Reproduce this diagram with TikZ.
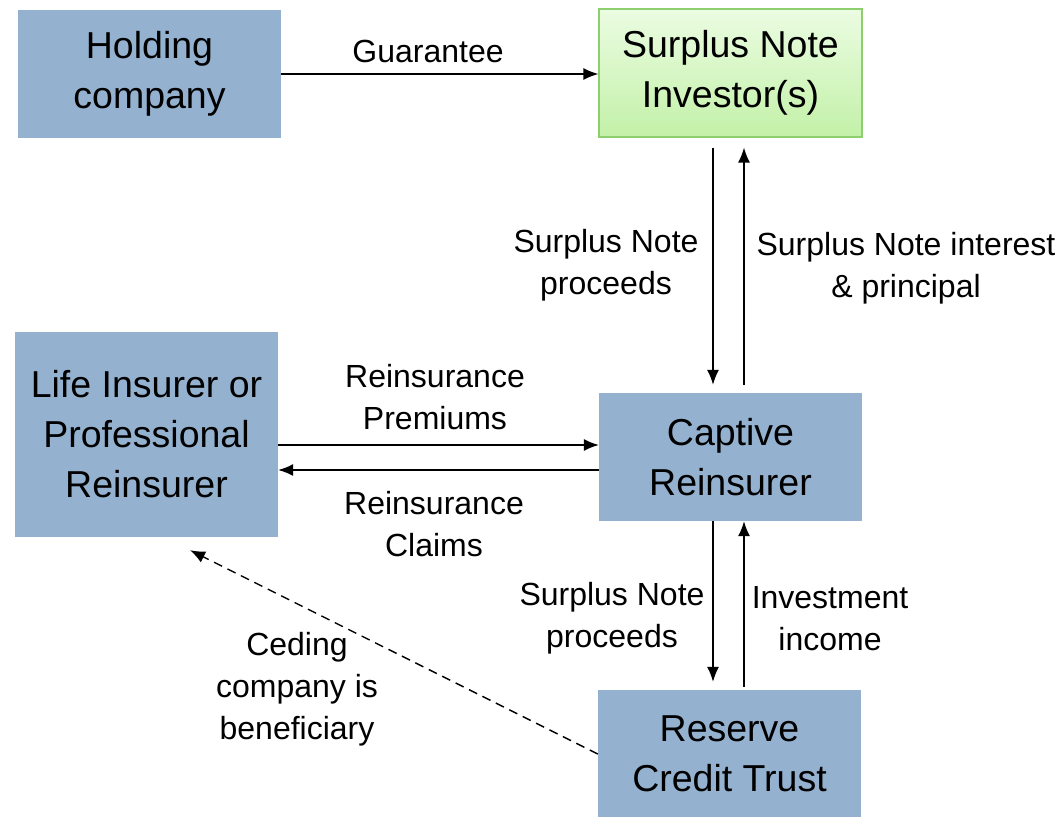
\documentclass[tikz,border=0pt]{standalone}
\usepackage{fontspec}
\setmainfont{Liberation Sans}
\usetikzlibrary{arrows.meta,calc}
\definecolor{boxblue}{HTML}{94B2D0}
\definecolor{greentop}{HTML}{EBFCE2}
\definecolor{greenbot}{HTML}{C3F1A8}
\definecolor{greenline}{HTML}{8DCF6E}
\tikzset{
  entity/.style={fill=boxblue, draw=none, minimum width=263pt, minimum height=128pt,
    align=center, inner sep=0pt, font=\fontsize{37.5}{50}\selectfont},
  investorbox/.style={entity, top color=greentop, bottom color=greenbot, draw=greenline, line width=1.2pt},
  flowlabel/.style={align=center, inner sep=0pt, font=\fontsize{32}{42}\selectfont},
  flow/.style={line width=1.4pt, -{Latex[length=15pt,width=12pt]}},
  beneficiary/.style={flow, dashed, dash pattern=on 9pt off 6pt}
}
\begin{document}
\begin{tikzpicture}[x=1pt,y=-1pt]
\useasboundingbox (0,0) rectangle (1062,816);

% parties
\node[entity] (hold) at (149.5,74) {Holding\\company};
\node[investorbox] (inv) at (730.5,73) {Surplus Note\\Investor(s)};
\node[entity, minimum height=205pt] (life) at (146.5,434.5) {Life Insurer or\\Professional\\Reinsurer};
\node[entity] (cap) at (730.5,457) {Captive\\Reinsurer};
\node[entity] (trust) at (729.5,754) {Reserve\\Credit Trust};

% flow labels
\node[flowlabel] (lguar) at (428,51) {Guarantee};
\node[flowlabel] (lproc1) at (606,265) {Surplus Note\\proceeds};
\node[flowlabel] (lint) at (906,268) {Surplus Note interest\\\& principal};
\node[flowlabel] (lprem) at (435,397) {Reinsurance\\Premiums};
\node[flowlabel] (lclaim) at (434,524) {Reinsurance\\Claims};
\node[flowlabel] (lproc2) at (612,618) {Surplus Note\\proceeds};
\node[flowlabel] (linc) at (830,619) {Investment\\income};
\node[flowlabel] (lcede) at (297,689) {Ceding\\company is\\beneficiary};

% guarantee
\draw[flow] (hold.east |- 0,74) -- (inv.west |- 0,74);

% surplus note investor <-> captive
\draw[flow] ($(inv.south)+(-17.5,10)$) -- ($(cap.north)+(-17.5,-8)$);
\draw[flow] ($(cap.north)+(13.5,-8)$) -- ($(inv.south)+(13.5,10)$);

% captive <-> life insurer
\draw[flow] (life.east |- 0,445) -- (cap.west |- 0,445);
\draw[flow] (cap.west |- 0,470) -- (life.east |- 0,470);

% captive <-> trust
\draw[flow] ($(cap.south)+(-17.5,0)$) -- ($(trust.north)+(-16.5,-8)$);
\draw[flow] ($(trust.north)+(14.5,-3)$) -- ($(cap.south)+(13.5,0)$);

% trust beneficiary
\coordinate (cedeend) at ($(life.south)+(43.5,13)$);
\draw[beneficiary] (trust.west) -- (cedeend);
\end{tikzpicture}
\end{document}
